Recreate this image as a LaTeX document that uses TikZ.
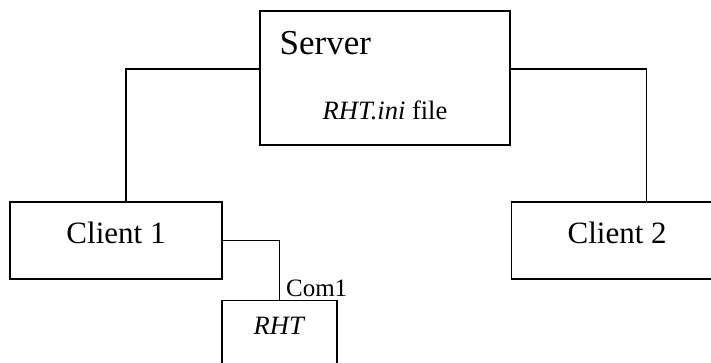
\documentclass[tikz,border=0pt]{standalone}
\usepackage{fontspec}
\setmainfont{Liberation Serif}
\usetikzlibrary{positioning,calc}

\begin{document}
\begin{tikzpicture}[x=1pt,y=-1pt,
caja/.style={draw=black,line width=1.2pt,inner sep=0pt,minimum width=212pt,minimum height=77pt},
cliente/.style={caja,font=\fontsize{31}{36}\selectfont,text height=21pt,text depth=16pt},
titulo/.style={font=\fontsize{35}{42}\selectfont,inner sep=0pt},
nota/.style={font=\fontsize{26.5}{32}\selectfont,inner sep=0pt},
etiqueta/.style={font=\fontsize{25}{30}\selectfont,inner sep=0pt},
conector/.style={draw=black,line width=1.2pt}
]
\path[use as bounding box,clip] (0,0) rectangle (711,362);

\node[caja,minimum width=250pt,minimum height=134pt] (server) at (385,78) {};
\node[titulo,anchor=base west] (srvname) at ($(server.north west)+(20,44)$) {Server};
\node[nota,anchor=base] (inifile) at ($(server.north)+(0,109)$) {\textit{RHT.ini} file};

\node[cliente] (client1) at (116,240.5) {Client 1};
\node[cliente,right=288pt of client1] (client2) {Client 2};
\node[caja,nota,minimum width=115pt,minimum height=80pt,text height=18pt,text depth=30pt,
  below=20pt of client1,xshift=163.5pt] (rht) {\textit{RHT}};

\draw[conector] ([yshift=9pt]server.west) -| ([xshift=10pt]client1.north);
\draw[conector] ([yshift=9pt]server.east) -| ([xshift=29pt]client2.north);
\draw[conector] (client1.east) -| node[etiqueta,pos=1,anchor=base west,xshift=6pt,yshift=3pt] (com) {Com1} (rht.north);
\end{tikzpicture}
\end{document}
